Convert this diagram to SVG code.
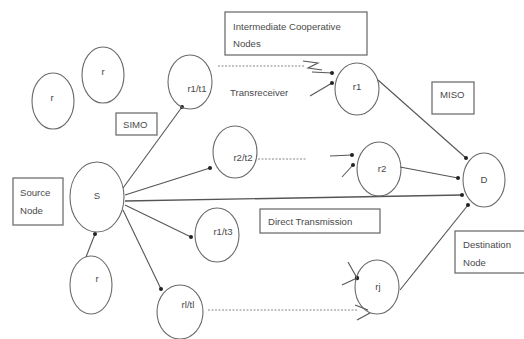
<svg xmlns="http://www.w3.org/2000/svg" width="524" height="339" viewBox="0 0 524 339">
<defs>
<style>
.n{fill:none;stroke:#6a6a6a;stroke-width:1.1}
.b{fill:none;stroke:#707070;stroke-width:1.3}
.t{font-family:"Liberation Sans",Arial,sans-serif;font-size:9.6px;fill:#4a4a4a}
.l{fill:none;stroke:#555;stroke-width:1.1}
.d{fill:none;stroke:#888;stroke-width:1.2;stroke-dasharray:2,1.5}
.dot{fill:#222}
</style>
</defs>
<rect width="524" height="339" fill="#fff"/>
<g id="connectors">
<line class="l" x1="123" y1="188" x2="182" y2="107"/><circle class="dot" cx="182" cy="107" r="2"/>
<line class="l" x1="125" y1="195" x2="210" y2="168"/><circle class="dot" cx="210" cy="168" r="2"/>
<line class="l" x1="125" y1="201" x2="462" y2="195" style="stroke-width:1.4"/><circle class="dot" cx="462" cy="195" r="2"/>
<line class="l" x1="125" y1="205" x2="191" y2="237"/><circle class="dot" cx="191" cy="237" r="2"/>
<line class="l" x1="123" y1="210" x2="161" y2="289"/><circle class="dot" cx="161" cy="289" r="2"/>
<line class="l" x1="86" y1="257" x2="95" y2="234"/><circle class="dot" cx="95" cy="234" r="2"/>
<line class="d" x1="218" y1="66" x2="305" y2="66"/>
<path class="l" d="M303 61 L318 63 L308 68 L322 70"/>
<line class="l" x1="312" y1="72" x2="332" y2="73"/><circle class="dot" cx="332" cy="73" r="2"/>
<line class="l" x1="310" y1="96" x2="332" y2="83"/><circle class="dot" cx="332" cy="83" r="2"/>
<line class="l" x1="378" y1="80" x2="466" y2="158"/><circle class="dot" cx="466" cy="158" r="2"/>
<line class="d" x1="258" y1="159" x2="306" y2="159"/>
<line class="l" x1="330" y1="156" x2="352" y2="155"/><circle class="dot" cx="352" cy="155" r="2"/>
<line class="l" x1="342" y1="177" x2="353" y2="165"/><circle class="dot" cx="353" cy="165" r="2"/>
<line class="l" x1="400" y1="167" x2="458" y2="178"/><circle class="dot" cx="458" cy="178" r="2"/>
<line class="d" x1="208" y1="310" x2="358" y2="310"/>
<line class="l" x1="348" y1="262" x2="357" y2="278"/>
<line class="l" x1="342" y1="285" x2="357" y2="278"/><circle class="dot" cx="357" cy="278" r="2.2"/>
<line class="l" x1="355" y1="305" x2="368" y2="310"/>
<line class="l" x1="357" y1="320" x2="370" y2="313"/>
<line class="l" x1="400" y1="290" x2="468" y2="205"/><circle class="dot" cx="468" cy="205" r="2"/>
</g>
<g id="node-r-a"><ellipse class="n" cx="53" cy="101" rx="21" ry="28"/><text class="t" x="52" y="101" text-anchor="middle">r</text></g>
<g id="node-r-b"><ellipse class="n" cx="103" cy="75" rx="21" ry="28"/><text class="t" x="103" y="75" text-anchor="middle">r</text></g>
<g id="node-r-c"><ellipse class="n" cx="91" cy="285" rx="21" ry="29"/><text class="t" x="97" y="282" text-anchor="middle">r</text></g>
<g id="node-S"><ellipse class="n" cx="97" cy="197" rx="27" ry="35"/><text class="t" x="97" y="199" text-anchor="middle">S</text></g>
<g id="node-r1t1"><ellipse class="n" cx="190" cy="82" rx="22" ry="27"/><text class="t" x="197" y="92" text-anchor="middle">r1/t1</text></g>
<g id="node-r2t2"><ellipse class="n" cx="235" cy="152" rx="22" ry="26"/><text class="t" x="243" y="161" text-anchor="middle">r2/t2</text></g>
<g id="node-r1t3"><ellipse class="n" cx="217" cy="235" rx="22" ry="27"/><text class="t" x="223" y="235" text-anchor="middle">r1/t3</text></g>
<g id="node-rltl"><ellipse class="n" cx="180" cy="312" rx="23" ry="27"/><text class="t" x="188" y="308" text-anchor="middle">rl/tl</text></g>
<g id="node-r1"><ellipse class="n" cx="357" cy="89" rx="22" ry="26"/><text class="t" x="357" y="90" text-anchor="middle">r1</text></g>
<g id="node-r2"><ellipse class="n" cx="379" cy="169" rx="22" ry="27"/><text class="t" x="382" y="172" text-anchor="middle">r2</text></g>
<g id="node-rj"><ellipse class="n" cx="377" cy="287" rx="22" ry="27"/><text class="t" x="378" y="290" text-anchor="middle">rj</text></g>
<g id="node-D"><ellipse class="n" cx="484" cy="180" rx="21" ry="27"/><text class="t" x="484" y="183" text-anchor="middle">D</text></g>
<g id="label-source"><rect class="b" x="13" y="178" width="50" height="47"/><text class="t" x="20" y="196">Source</text><text class="t" x="20" y="214">Node</text></g>
<g id="label-simo"><rect class="b" x="116" y="113" width="41" height="22"/><text class="t" x="123" y="128">SIMO</text></g>
<g id="label-intermediate"><rect class="b" x="225" y="12" width="142" height="43"/><text class="t" x="233" y="30">Intermediate Cooperative</text><text class="t" x="233" y="47">Nodes</text></g>
<g id="label-transreceiver"><text class="t" x="230" y="96">Transreceiver</text></g>
<g id="label-miso"><rect class="b" x="432" y="82" width="42" height="32"/><text class="t" x="440" y="98">MISO</text></g>
<g id="label-direct"><rect class="b" x="260" y="209" width="120" height="24"/><text class="t" x="268" y="225">Direct Transmission</text></g>
<g id="label-destination"><rect class="b" x="455" y="231" width="75" height="42"/><text class="t" x="463" y="248">Destination</text><text class="t" x="463" y="266">Node</text></g>
</svg>
